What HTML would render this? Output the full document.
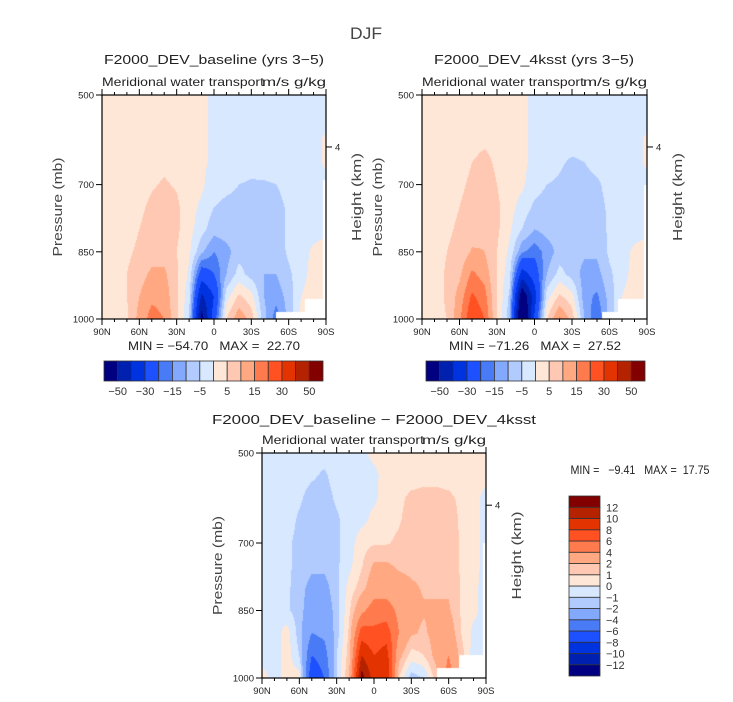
<!DOCTYPE html>
<html><head><meta charset="utf-8">
<style>
html,body{margin:0;padding:0;background:#fff;}
body{width:733px;height:702px;position:relative;overflow:hidden;font-family:"Liberation Sans",sans-serif;color:#222;}
canvas{position:absolute;}
svg{position:absolute;left:0;top:0;}
text{white-space:pre;}
</style></head>
<body>
<svg id="svg" width="733" height="702"></svg>
<script>
// ---------- data ----------
const lats = [90,80,70,60,50,40,30,20,10,0,-10,-20,-30,-40,-50,-60,-70,-80,-90];
const levels = [500,550,600,650,700,750,800,850,900,950,1000];
const xTickLabels = ["90N","60N","30N","0","30S","60S","90S"];
const xTickLats = [90,60,30,0,-30,-60,-90];
const yTickLabels = [500,700,850,1000];
const topLevels = [-50,-40,-30,-20,-15,-10,-5,0,5,10,15,20,30,40,50];
const topBarLabels = ["−50","−30","−15","−5","5","15","30","50"];
const diffLevels = [-12,-10,-8,-6,-4,-2,-1,0,1,2,4,6,8,10,12];
const diffBarLabels = ["−12","−10","−8","−6","−4","−2","−1","0","1","2","4","6","8","10","12"];
const colors = ["#000080","#0021b0","#0033e0","#1d50ff","#4a7bf7","#82a9fd","#b2cbff","#d7e8ff","#ffe7d8","#ffc8b2","#ffa882","#ff7a4c","#ff5122","#e23300","#b42200","#820000"];

const fieldBase = [
[2,2,2,2,2,2,2,2,1,-1,-2,-2,-2,-2,-2,-2,-2,-2,-2],
[2,2,2,2,2,3,3,2,1,-1,-2,-2,-2,-2,-2,-2,-2,-2,-2],
[2,2,2,2,3,3.5,3,2,1,-1,-2,-2,-2,-2,-2,-2,-2,-2,1],
[2,2,2,3,3.5,4,3.5,2,1,-1,-2,-3,-3.5,-3,-3,-2,-2,-2,1],
[2,2,2,3,4.5,5.5,4.5,2,1,-3,-4,-5,-5.5,-5.5,-5,-3,-2,-2,-2],
[2,2,2,4,6,7,6,2,-1,-5,-6,-6,-8,-7,-7,-4,-2,-2,-2],
[2,2,3,5,7,8,6,2,-3,-8,-7,-6,-8,-8,-7,-4,-2,-2,-2],
[2,2,4,6,8,8,5,1,-9,-15,-12,-7,-8,-8,-8,-4,-2,1,3],
[2,2,5,8,11,11,6,-1,-25,-20,-10,-3,-7,-10,-10,-6,-2,2,3],
[2,2,5,10,14,13,6,-3,-42,-30,-2,6,2,-10,-13,-8,0,3,3],
[2,2,4,12,17,15,6,-5,-55,-25,5,14,8,-8,-18,-8,2,3,3]];
const fieldWarm = [
[2,2,2,2,2,2,2,2,1,-1,-2,-2,-2,-2,-2,-2,-2,-2,-2],
[2,2,2,2,2,3,3,2,1,-1,-2,-2,-2,-2,-2,-2,-2,-2,-2],
[2,2,2,2,3,4,3,2,1,-1,-2,-2,-2,-2,-2,-2,-2,-2,1],
[2,2,2,3,5,6.5,4,2,1,-1,-2,-4,-6,-5,-3,-2,-2,-2,1],
[2,2,2,4,6,8,5,2,1,-3,-5,-6,-8,-7,-6,-3,-2,-2,-2],
[2,2,3,5,7,9,6,2,-2,-6,-7,-7,-8,-8,-7,-4,-2,-2,-2],
[2,2,4,6,8,9.5,6,1,-5,-10,-8,-7,-8,-8,-8,-4,-2,-2,-2],
[2,2,5,7,10.5,10,5,-1,-14,-18,-13,-8,-8,-9,-9,-4,-2,1,3],
[2,2,6,9,16,13,5,-3,-35,-25,-10,-3,-7,-12,-12,-6,-2,2,3],
[2,2,6,12,21,17,5,-6,-60,-35,-2,6,2,-13,-16,-8,0,3,3],
[2,3,5,14,25,20,5,-8,-71,-28,5,16,8,-10,-20,-8,2,3,3]];
const fieldDiff = [
[-0.5,-0.5,-0.5,-0.5,-0.5,-0.5,-0.5,-0.5,-0.3,0.3,0.5,0.5,0.5,0.5,0.5,0.5,0.5,0.5,0.5],
[-0.5,-0.5,-0.5,-0.5,-0.8,-1.2,-0.5,-0.5,-0.3,-0.3,0.5,0.5,0.6,0.7,0.7,0.6,0.5,0.5,0.5],
[-0.5,-0.5,-0.5,-0.8,-1.5,-1.5,-0.8,-0.5,-0.3,-0.2,0.5,0.8,1.2,1.3,1.3,1.2,0.8,0.5,-0.5],
[-0.5,-0.5,-0.5,-1.2,-1.5,-1.5,-1.2,-0.5,-0.3,0.3,0.6,0.9,1.4,1.6,1.4,1.6,0.8,0.5,-0.5],
[-0.5,-0.5,-0.8,-1.3,-1.5,-1.5,-1.2,-0.5,0.6,0.9,0.9,1.2,1.5,1.6,1.5,1.6,0.9,0.5,-0.5],
[-0.5,-0.5,-0.8,-1.3,-1.7,-1.7,-1.2,-0.3,0.9,2.2,2.2,1.8,1.7,1.7,1.6,1.6,0.9,0.5,-0.5],
[-0.5,-0.5,-0.8,-1.5,-2.5,-2.5,-1.3,0.4,1.5,3,3,2.6,2.2,1.9,1.8,1.8,0.9,0.3,-0.5],
[-0.5,-0.5,-0.8,-1.5,-3,-3,-1.5,0.8,3.5,5,5,3.5,2.4,2.1,2.2,2.2,0.9,0.3,-0.5],
[-0.5,-0.5,0.5,-1.5,-4,-3.5,-1.5,1.2,7,6.5,7,4,2.2,1.8,2.5,3,1.0,-0.3,-0.5],
[-0.5,-0.5,0.5,-1,-6,-5,-1,1.5,10,8,9,2.5,0.5,1,2.5,4,1.5,-0.5,-0.5],
[0.5,-0.5,0.5,0.5,-8,-6,-1,2,13,9,10,1,-1.5,-1,1.5,5,2,-0.5,-0.5]];
// topography masks: [latFrom, latTo, pressureFrom]
const maskBase = [[-50,-90,985],[-73,-90,955],[-87.5,-90,690]];
const maskWarm = [[-54,-90,985],[-67,-90,955],[-87.5,-90,700]];
const maskDiff = [[-51,-90,978],[-68,-90,950],[-87.5,-90,700]];

// ---------- drawing ----------
const svg = document.getElementById('svg');
const NS = "http://www.w3.org/2000/svg";
function el(tag, attrs, parent){ const e=document.createElementNS(NS,tag); for(const k in attrs) e.setAttribute(k,attrs[k]); (parent||svg).appendChild(e); return e; }
function txt(x,y,s,size,anchor,name,extra,len){
  const a = Object.assign({x:x,y:y,'font-size':size,'text-anchor':anchor||'middle','font-family':'Liberation Sans, sans-serif',fill:'#222'},extra||{});
  if(len){ a.textLength=len; a.lengthAdjust='spacingAndGlyphs'; }
  const t = el('text',a);
  t.textContent=s;
  
  
  return t;
}
function colorIndex(v, lv){ let i=0; while(i<lv.length && v>=lv[i]) i++; return i; }
function hex(c){ return [parseInt(c.slice(1,3),16),parseInt(c.slice(3,5),16),parseInt(c.slice(5,7),16)]; }
const rgb = colors.map(hex);

function panel(px,py,w,h,field,lv,mask,name){
  const xs = lat => px + (90-lat)/180*w;
  const ys = p => py + (p-500)/500*h;
  const cv=document.createElement('canvas');
  cv.width=w; cv.height=h; cv.style.left=px+'px'; cv.style.top=py+'px';
  
  
  document.body.insertBefore(cv, svg);
  const ctx=cv.getContext('2d'); const img=ctx.createImageData(w,h);
  const nc=lats.length-1, nr=levels.length-1;
  for(let j=0;j<h;j++){
    const p=500+(j+0.5)/h*500;
    let r=Math.min(nr-1,Math.floor((p-500)/50)); const fy=(p-levels[r])/(levels[r+1]-levels[r]);
    for(let i=0;i<w;i++){
      const lat=90-(i+0.5)/w*180;
      let c=Math.min(nc-1,Math.floor((90-lat)/10)); const fx=(lats[c]-lat)/10;
      const v=(field[r][c]*(1-fx)+field[r][c+1]*fx)*(1-fy)+(field[r+1][c]*(1-fx)+field[r+1][c+1]*fx)*fy;
      let col=rgb[colorIndex(v,lv)];
      for(const m of mask){ if(lat<=m[0] && lat>=m[1] && p>=m[2]) col=[255,255,255]; }
      const k=(j*w+i)*4; img.data[k]=col[0];img.data[k+1]=col[1];img.data[k+2]=col[2];img.data[k+3]=255;
    }
  }
  ctx.putImageData(img,0,0);
  const g=el('g',{});
  
  
  el('rect',{x:px,y:py,width:w,height:h,fill:'none',stroke:'#000','stroke-width':1.2},g);
  for(let lat=90;lat>=-90;lat-=10){
    const x=xs(lat), L=(lat%30===0)?6:3;
    el('line',{x1:x,y1:py+h,x2:x,y2:py+h+L,stroke:'#000','stroke-width':1},g);
    el('line',{x1:x,y1:py,x2:x,y2:py-L,stroke:'#000','stroke-width':1},g);
  }
  xTickLats.forEach((lat,i)=>txt(xs(lat),py+h+16,xTickLabels[i],9.5,'middle','x-tick-label'));
  yTickLabels.forEach(p=>{
    el('line',{x1:px-6,y1:ys(p),x2:px,y2:ys(p),stroke:'#000','stroke-width':1},g);
    txt(px-8,ys(p)+3.5,String(p),9.5,'end','y-tick-label');
  });
  const y4=ys(616);
  el('line',{x1:px+w,y1:y4,x2:px+w+6,y2:y4,stroke:'#000','stroke-width':1},g);
  txt(px+w+9,y4+3.5,'4',9.5,'start','height-tick-label');
  txt(px-40,py+h/2,'Pressure (mb)',13,'middle','y-axis-title',{transform:`rotate(-90 ${px-40} ${py+h/2})`,fill:'#444'},99);
  txt(px+w+35,py+h/2-10,'Height (km)',13,'middle','y2-axis-title',{transform:`rotate(-90 ${px+w+35} ${py+h/2-10})`,fill:'#444'},88);
  txt(px,py-9,'Meridional water transport',12,'start','subtitle',{},162);
  txt(px+w,py-9,'m/s g/kg',12,'end','units-label',{},64);
}
function hbar(x,y,w,h,lv,labels){
  const bw=w/colors.length;
  colors.forEach((c,i)=>{ const r=el('rect',{x:x+i*bw,y:y,width:bw,height:h,fill:c,stroke:'#333','stroke-width':0.8});
      });
  labels.forEach((s,k)=>txt(x+(1+2*k)*bw,y+h+14,s,11,'middle','colorbar-label',{fill:'#333'}));
}
function vbar(x,y,w,h,lv,labels){
  const bh=h/colors.length;
  colors.forEach((c,i)=>{ const r=el('rect',{x:x,y:y+(colors.length-1-i)*bh,width:w,height:bh,fill:c,stroke:'#333','stroke-width':0.8});
      });
  labels.forEach((s,k)=>txt(x+w+6,y+h-(k+1)*bh+4,s,11,'start','colorbar-label',{fill:'#333'}));
}

txt(366,39,'DJF',17,'middle','figure-title',{fill:'#444'},32);
txt(214,64,'F2000_DEV_baseline (yrs 3−5)',13,'middle','panel-title-baseline',{},220);
txt(534,64,'F2000_DEV_4ksst (yrs 3−5)',13,'middle','panel-title-4ksst',{},200);
txt(374,424,'F2000_DEV_baseline − F2000_DEV_4ksst',13,'middle','panel-title-diff',{},324);

panel(102,95,224,224,fieldBase,topLevels,maskBase,'baseline');
panel(422,95,225,224,fieldWarm,topLevels,maskWarm,'4ksst');
panel(262,453,224,225,fieldDiff,diffLevels,maskDiff,'diff');

txt(214,350,'MIN = −54.70   MAX =  22.70',12,'middle','min-max-baseline',{},172);
txt(535,350,'MIN = −71.26   MAX =  27.52',12,'middle','min-max-4ksst',{},172);
txt(640,474,'MIN =   −9.41   MAX =  17.75',12,'middle','min-max-diff',{},139);

hbar(104,361,219,20,topLevels,topBarLabels);
hbar(426,361,219,20,topLevels,topBarLabels);
vbar(569,496,31,180,diffLevels,diffBarLabels);
</script>
</body></html>
